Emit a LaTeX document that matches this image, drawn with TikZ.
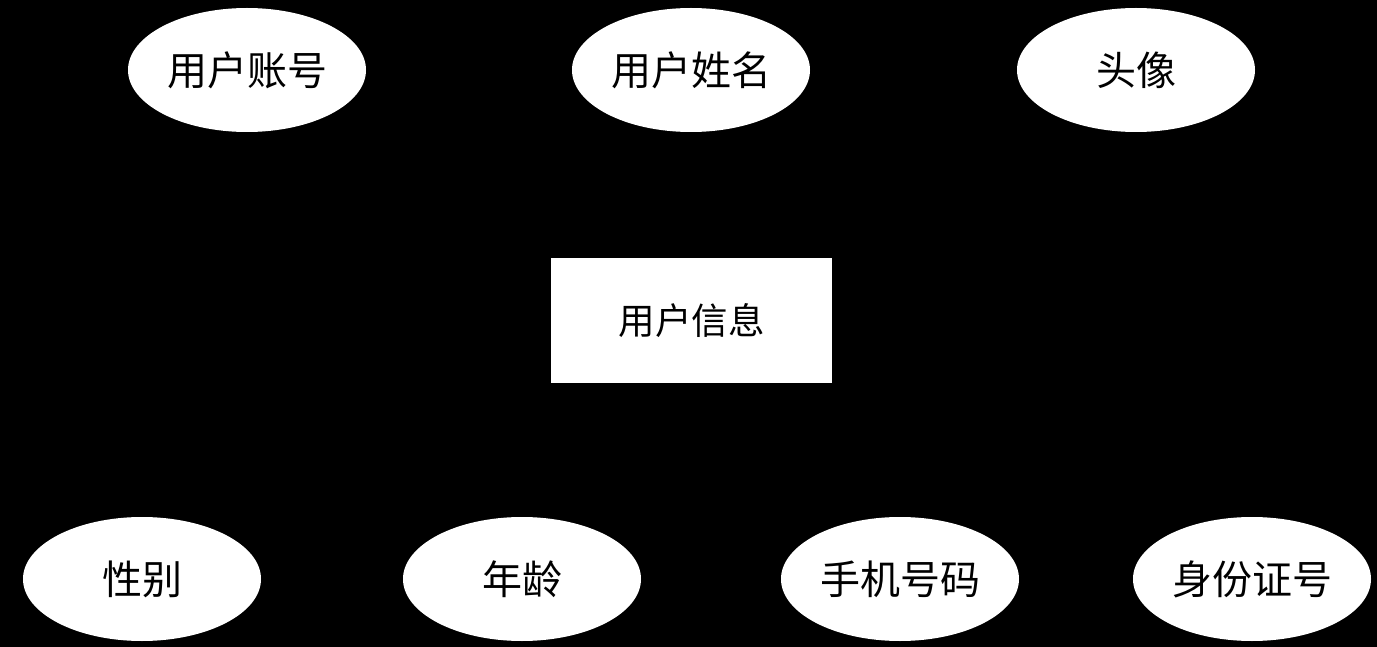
\documentclass[tikz,border=0pt]{standalone}
\usepackage{fontspec}
\newfontfamily\cjk{Noto Sans CJK SC}
\usetikzlibrary{shapes.geometric}
\begin{document}
\begin{tikzpicture}[x=1pt,y=-1pt,
  attr/.style={ellipse,fill=white,draw=none,minimum width=238pt,minimum height=124pt,inner sep=0pt,font=\cjk\fontsize{40}{44}\selectfont},
  entity/.style={rectangle,fill=white,draw=none,minimum width=281pt,minimum height=125pt,inner sep=0pt,font=\cjk\fontsize{36.5}{40}\selectfont},
  link/.style={draw=black,line width=1pt}]
\fill[black] (0,0) rectangle (1377,647);
\useasboundingbox (0,0) rectangle (1377,647);
\coordinate (ec) at (691.5,320.5);
\coordinate (a1c) at (247,70);
\coordinate (a2c) at (691,70);
\coordinate (a3c) at (1136,70);
\coordinate (b1c) at (142,579);
\coordinate (b2c) at (522,579);
\coordinate (b3c) at (900,579);
\coordinate (b4c) at (1252,579);
\foreach \c in {a1c,a2c,a3c,b1c,b2c,b3c,b4c} \draw[link] (ec) -- (\c);
\node[entity] (e) at (ec) {用户信息};
\node[attr] (a1) at (a1c) {用户账号};
\node[attr] (a2) at (a2c) {用户姓名};
\node[attr] (a3) at (a3c) {头像};
\node[attr] (b1) at (b1c) {性别};
\node[attr] (b2) at (b2c) {年龄};
\node[attr] (b3) at (b3c) {手机号码};
\node[attr] (b4) at (b4c) {身份证号};
\end{tikzpicture}
\end{document}
